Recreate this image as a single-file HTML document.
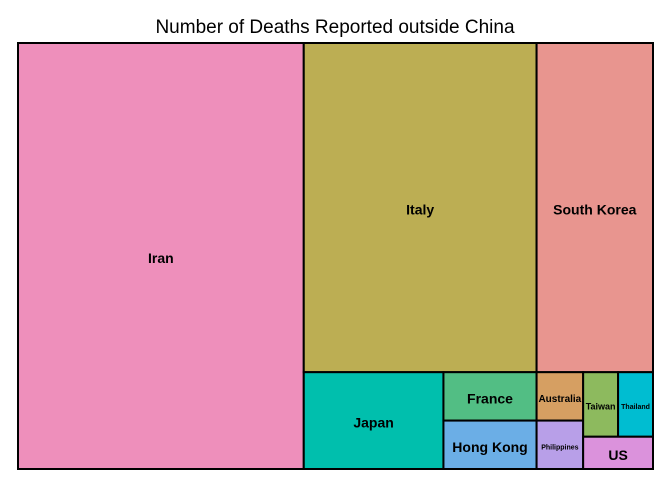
<!DOCTYPE html>
<html><head><meta charset="utf-8"><style>
body{margin:0;background:#fff;font-family:"Liberation Sans",Arial,sans-serif}
</style></head><body>
<svg width="672" height="480" viewBox="0 0 672 480">
<rect x="0" y="0" width="672" height="480" fill="#fff"/>
<text x="335" y="33" text-anchor="middle" font-size="19" fill="#000" font-family="Liberation Sans, Arial, sans-serif">Number of Deaths Reported outside China</text>
<g id="tiles"></g>
</svg>
<script>
const countries = ["Iran","Italy","South Korea","Japan","France","Hong Kong","Australia","Philippines","Taiwan","Thailand","US"];
const deaths = [54,34,17,6,2,2,1,1,1,1,1];
const colors = ["#EE8FBB","#BCAE53","#E8958F","#00BFAD","#52BE84","#6BAEE6","#D69F62","#B89FE8","#8DBA5E","#00BDD1","#DB92DC"];
const fontSizes = [14,14,14,14,14,14,10,7,9,7,14];
// layout tree: indices into arrays; 'h' = side-by-side, 'v' = stacked
const layout = {d:'h',c:[0,{d:'v',c:[{d:'h',c:[1,2]},{d:'h',c:[3,{d:'v',c:[4,5]},{d:'v',c:[6,7]},{d:'v',c:[{d:'h',c:[8,9]},10]}]}]}]};
function sum(n){return typeof n==='number'?deaths[n]:n.c.reduce((a,b)=>a+sum(b),0);}
const g=document.getElementById('tiles');
const NS='http://www.w3.org/2000/svg';
function place(n,x,y,w,h){
  if(typeof n==='number'){
    const r=document.createElementNS(NS,'rect');
    r.setAttribute('x',x);r.setAttribute('y',y);r.setAttribute('width',w);r.setAttribute('height',h);
    r.setAttribute('fill',colors[n]);r.setAttribute('stroke','#000');r.setAttribute('stroke-width','2');
    
    
    g.appendChild(r);
    const t=document.createElementNS(NS,'text');
    t.setAttribute('x',x+w/2);t.setAttribute('y',y+h/2+fontSizes[n]*0.36+2);
    t.setAttribute('text-anchor','middle');t.setAttribute('font-weight','bold');
    t.setAttribute('font-size',fontSizes[n]);t.setAttribute('font-family','Liberation Sans, Arial, sans-serif');
    t.textContent=countries[n];
    
    
    g.appendChild(t);
    return;
  }
  const tot=sum(n);let off=0;
  n.c.forEach(ch=>{const f=sum(ch)/tot;
    if(n.d==='h'){place(ch,x+off,y,w*f,h);off+=w*f;}
    else{place(ch,x,y+off,w,h*f);off+=h*f;}});
}
place(layout,18,43,635,426);
</script>
</body></html>
